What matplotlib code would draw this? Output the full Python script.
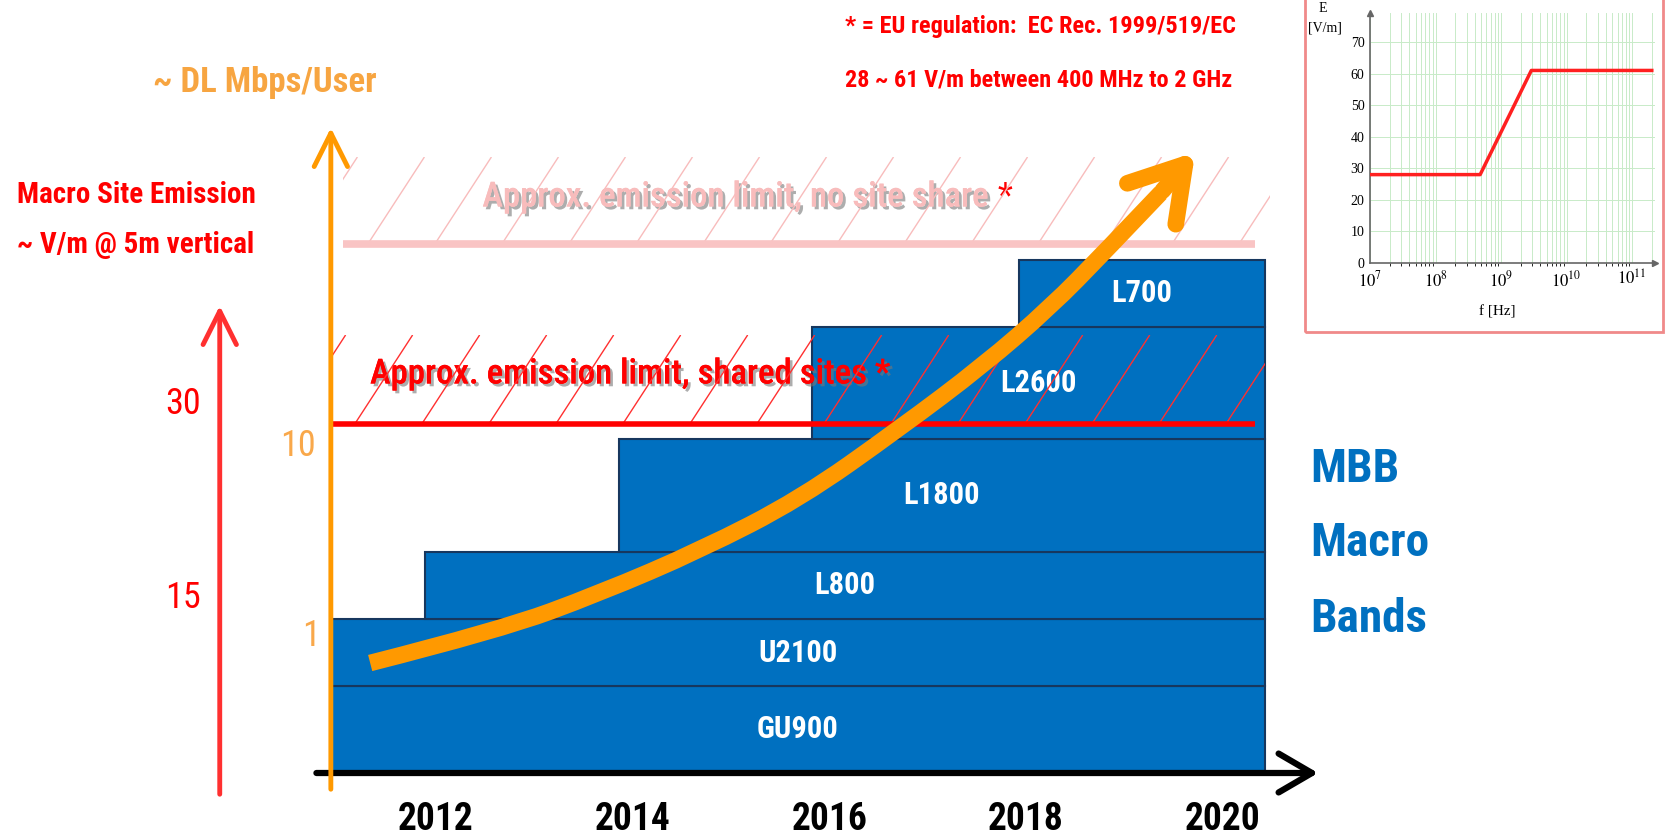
import matplotlib
matplotlib.use("Agg")
import matplotlib.pyplot as plt
import matplotlib.patheffects as pe
from matplotlib.collections import LineCollection
from matplotlib.patches import Rectangle, FancyArrowPatch, PathPatch
from matplotlib.path import Path
import numpy as np

# fonts
NARROW = ['Liberation Sans Narrow', 'Roboto Condensed', 'Open Sans', 'DejaVu Sans']
SERIF = ['Liberation Serif', 'DejaVu Serif']
plt.rcParams['mathtext.fontset'] = 'stix'

# MBB macro bands: start year, bottom/top level (drawing units on the band stack)
bands = ['GU900', 'U2100', 'L800', 'L1800', 'L2600', 'L700']
band_start = [2010.93, 2010.93, 2011.89, 2013.86, 2015.82, 2017.93]
band_bottom = [0, 87, 154, 221, 334, 446]
band_top = [87, 154, 221, 334, 446, 513]
band_end = 2020.43

years = [2012, 2014, 2016, 2018, 2020]

# emission limits (level on the stack)
limit_shared = 349
limit_no_share = 529

# DL Mbps/User growth curve (year, level)
curve_year = [2011.33, 2012.65, 2013.67, 2014.69, 2015.70, 2016.72, 2017.57, 2018.25,
              2018.79, 2019.37]
curve_level = [110, 143, 180, 223, 274, 345, 408, 466, 520, 580]
curve_tip = (2019.74, 623)

# left scales
mbps_labels = ['1', '10']
mbps_levels = [137, 327]
vm_labels = ['15', '30']
vm_levels = [175, 369]

# inset: EC Rec. 1999/519/EC reference levels
inset_f = [1e7, 4.8e8, 2.9e9, 2e11]
inset_e = [28, 28, 61, 61]

BLUE = '#0070C0'
ORANGE = '#FF9900'
RED = '#FF0000'
PINK = '#F8BCBC'

fig = plt.figure(figsize=(16.67, 8.4), dpi=100)
ax = fig.add_axes([0, 0, 1, 1])
ax.set_xlim(2007.565, 2024.52)
ax.set_ylim(-67, 773)
ax.axis('off')

# bands
for name, x0, y0, y1 in zip(bands, band_start, band_bottom, band_top):
    ax.add_patch(Rectangle((x0, y0), band_end - x0, y1 - y0, facecolor=BLUE,
                           edgecolor='#17375E', lw=1.5, zorder=2))
    ax.text((x0 + band_end) / 2, (y0 + y1) / 2, name, color='white', fontsize=22,
            fontweight='bold', family=NARROW, ha='center', va='center', zorder=3)


# hatched zones above the limits
def hatch_zone(x0, x1, y0, y1, color):
    px_per_year = 98.3
    run = 0.65 * (y1 - y0) / px_per_year
    step = 67 / px_per_year
    starts = np.arange(x0 - run + 0.15, x1 + step, step)
    segs = [[(s, y0), (s + run, y1)] for s in starts]
    lc = LineCollection(segs, colors=color, linewidths=1.0, zorder=4)
    ax.add_collection(lc)
    clip = Rectangle((x0, y0), x1 - x0, y1 - y0, transform=ax.transData)
    lc.set_clip_path(clip)


hatch_zone(2011.05, 2020.48, limit_no_share, 616, PINK)
hatch_zone(2010.93, 2020.43, limit_shared, 438, '#FF3030')

ax.plot([2011.05, 2020.33], [limit_no_share, limit_no_share], color='#F9C4C4', lw=5.5, zorder=4,
        solid_capstyle='butt')
ax.plot([2010.93, 2020.33], [limit_shared, limit_shared], color=RED, lw=4, zorder=4,
        solid_capstyle='butt')

shadow = [pe.withSimplePatchShadow(offset=(2, -2), shadow_rgbFace='#777777', alpha=0.6), pe.Normal()]
t1 = ax.text(2015.05, 576, 'Approx. emission limit, no site share', color=PINK, fontsize=25,
             family=NARROW, fontweight='medium', ha='center', va='center', zorder=3.5,
             path_effects=shadow)
ax.annotate('*', xy=(1, 0.5), xycoords=t1, xytext=(6, 0), textcoords='offset points',
            color=RED, fontsize=25, family=NARROW, ha='left', va='center', zorder=3.5)
ax.text(2013.98, 399, 'Approx. emission limit, shared sites *', color=RED, fontsize=25,
        family=NARROW, fontweight='medium', ha='center', va='center', zorder=3.5,
        path_effects=shadow)

# x axis
ax.annotate('', xy=(2021.0, 0), xytext=(2010.755, 0),
            arrowprops=dict(arrowstyle='->,head_length=0.6,head_width=0.35', color='black',
                            lw=4.5, mutation_scale=40), zorder=5)
for y in years:
    ax.text(y, -46, str(y), color='black', fontsize=27, fontweight='bold', family=NARROW,
            ha='center', va='center')

# orange Mbps axis
ax.annotate('', xy=(2010.93, 648), xytext=(2010.93, -19),
            arrowprops=dict(arrowstyle='->,head_length=0.6,head_width=0.3', color=ORANGE,
                            lw=3.5, mutation_scale=40), zorder=5)
for lab, lev in zip(mbps_labels, mbps_levels):
    ax.text(2010.60 if lab == '10' else 2010.73, lev, lab, color='#F9A84A', fontsize=26,
            family=NARROW, ha='center', va='center')
ax.text(0.092, 0.902, '~ DL Mbps/User', transform=ax.transAxes, color='#F7A541', fontsize=25,
        fontweight='bold', family=NARROW, ha='left', va='center')

# red V/m axis
ax.annotate('', xy=(2009.80, 470), xytext=(2009.80, -24),
            arrowprops=dict(arrowstyle='->,head_length=0.6,head_width=0.3', color='#FF3030',
                            lw=3.5, mutation_scale=40), zorder=5)
for lab, lev in zip(vm_labels, vm_levels):
    ax.text(2009.43, lev, lab, color=RED, fontsize=26, family=NARROW, ha='center', va='center')
ax.text(0.010, 0.768, 'Macro Site Emission', transform=ax.transAxes, color=RED, fontsize=21,
        fontweight='bold', family=NARROW, ha='left', va='center')
ax.text(0.010, 0.708, '~ V/m @ 5m vertical', transform=ax.transAxes, color=RED, fontsize=21,
        fontweight='bold', family=NARROW, ha='left', va='center')

# growth curve: smooth quadratic path through the read points
pts = list(zip(curve_year, curve_level))
verts = [pts[0]]
codes = [Path.MOVETO]
for i in range(1, len(pts) - 1):
    end = pts[i + 1] if i == len(pts) - 2 else ((pts[i][0] + pts[i + 1][0]) / 2,
                                                 (pts[i][1] + pts[i + 1][1]) / 2)
    verts += [pts[i], end]
    codes += [Path.CURVE3, Path.CURVE3]
ax.add_patch(PathPatch(Path(verts, codes), facecolor='none', edgecolor=ORANGE, lw=12,
                       capstyle='butt', zorder=6))
ax.add_patch(FancyArrowPatch((curve_year[-1], curve_level[-1]), curve_tip,
                             arrowstyle='->,head_length=0.62,head_width=0.38', color=ORANGE,
                             lw=12, mutation_scale=60, zorder=6))

# regulation note
ax.text(0.507, 0.968, '* = EU regulation:  EC Rec. 1999/519/EC', transform=ax.transAxes, color=RED,
        fontsize=17.5, fontweight='bold', family=NARROW, ha='left', va='center')
ax.text(0.507, 0.905, '28 ~ 61 V/m between 400 MHz to 2 GHz', transform=ax.transAxes, color=RED,
        fontsize=17.5, fontweight='bold', family=NARROW, ha='left', va='center')

# MBB Macro Bands
for txt, yy in zip(['MBB', 'Macro', 'Bands'], [0.442, 0.353, 0.263]):
    ax.text(0.786, yy, txt, transform=ax.transAxes, color=BLUE, fontsize=34, fontweight='bold',
            family=NARROW, ha='left', va='center')

# inset box
fig.patches.append(Rectangle((1305 / 1667, 1 - 332 / 840), 358 / 1667, 340 / 840,
                             transform=fig.transFigure, fill=False, edgecolor='#F08A8A', lw=2))

ins = fig.add_axes([1370 / 1667, 1 - 263 / 840, 285 / 1667, 250 / 840])
ins.set_xscale('log')
ins.set_xlim(1e7, 10 ** 11.35)
ins.set_ylim(0, 79.2)
ins.grid(True, which='both', color='#C8EBC8', lw=0.7)
ins.plot(inset_f, inset_e, color='#FF2020', lw=2.5, zorder=3)
for s in ['top', 'right']:
    ins.spines[s].set_visible(False)
for s in ['left', 'bottom']:
    ins.spines[s].set_color('#666666')
    ins.spines[s].set_linewidth(1.2)
ins.plot(0, 1, '^', color='#666666', ms=4, transform=ins.transAxes, clip_on=False)
ins.plot(1, 0, '>', color='#666666', ms=4, transform=ins.transAxes, clip_on=False)
ins.set_yticks(range(0, 71, 10))
ins.set_xticks([1e7, 1e8, 1e9, 1e10, 1e11])
ins.set_xticklabels([r'$10^{7}$', r'$10^{8}$', r'$10^{9}$', r'$10^{10}$', r'$10^{11}$'])
ins.tick_params(axis='y', length=0, labelsize=10, pad=4)
ins.tick_params(axis='x', length=0, labelsize=12, pad=5)
for lab in ins.get_yticklabels():
    lab.set_family(SERIF)
ins.xaxis.set_minor_formatter(plt.NullFormatter())
ins.set_facecolor('none')
fig.text(1323 / 1667, 1 - 8 / 840, 'E', family=SERIF, fontsize=10, ha='center', va='center')
fig.text(1325 / 1667, 1 - 28 / 840, '[V/m]', family=SERIF, fontsize=10, ha='center', va='center')
fig.text(1497 / 1667, 1 - 312 / 840, 'f [Hz]', family=SERIF, fontsize=11, ha='center', va='center')

fig.savefig('out.png', dpi=100)
